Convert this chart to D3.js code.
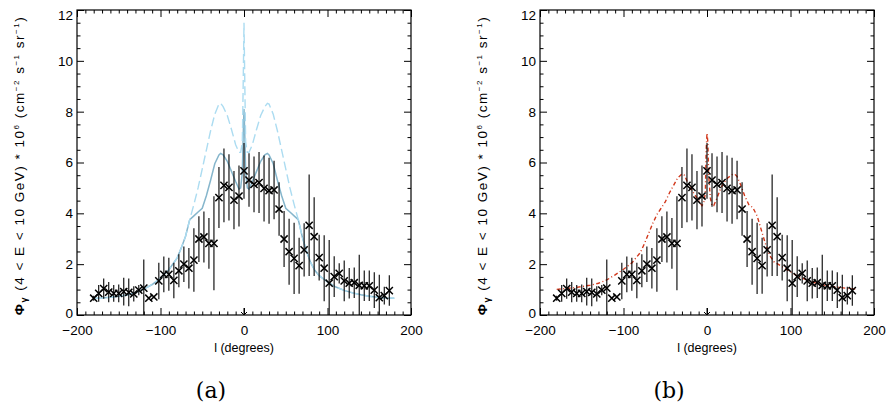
<!DOCTYPE html>
<html><head><meta charset="utf-8">
<script src="https://cdn.jsdelivr.net/npm/d3@7"></script>
<style>
html,body{margin:0;padding:0;background:#fff;}
svg text{font-family:"Liberation Sans",Arial,sans-serif;fill:#000;}
</style></head>
<body><svg id="c" width="887" height="408"></svg>
<script>
// ---- data ----
const lon = [-180,-174,-168,-162,-156,-150,-144,-138,-132,-126,-120,-114,-108,-102,-96,-90,-84,-78,-72,-66,-60,-54,-48,-42,-36,-30,-24,-18,-12,-6,0,6,12,18,24,30,36,42,48,54,60,66,72,78,84,90,96,102,108,114,120,126,132,138,144,150,156,162,168,174];
const flux = [0.66,0.85,1.04,0.90,0.85,0.85,0.92,0.89,0.83,0.98,1.06,0.66,0.71,1.34,1.60,1.60,1.36,1.74,2.00,1.84,2.16,2.99,3.07,2.82,2.82,4.62,5.10,5.02,4.52,4.68,5.67,5.31,5.14,5.21,4.98,4.89,4.92,4.17,2.99,2.49,2.23,1.94,2.56,3.53,3.08,2.26,1.84,1.25,1.51,1.64,1.34,1.25,1.27,1.17,1.15,1.15,0.98,0.68,0.76,0.96];
const fluxErr = [0.1,0.33,0.4,0.4,0.33,0.35,0.55,0.55,0.3,0.2,1.12,0,0,0.72,0.7,0.65,0.7,0.65,0.7,0.8,1.25,0.9,1.0,1.0,1.85,1.2,1.45,1.3,1.15,1.2,1.1,1.05,1.1,1.2,1.3,1.3,1.15,1.05,1.1,1.3,1.4,1.1,1.05,2.0,1.55,0.9,1.3,1.7,0.8,0.4,0.8,0.6,0.6,1.2,0.6,0.6,0.7,0.9,0.35,0.6];
const limitLon = [0];
const limitVal = [0];

const modelLon = [-180,-170,-160,-150,-140,-130,-120,-110,-100,-90,-80,-75,-70,-65,-60,-55,-50,-45,-40,-35,-30,-28,-25,-20,-15,-10,-6,-4,-2,-1,0,1,2,4,6,10,15,20,25,28,30,35,40,45,50,55,60,65,70,75,80,85,90,100,110,120,130,140,150,160,170,180];
const modelSolid = [0.66,0.67,0.70,0.74,0.79,0.88,1.02,1.2,1.45,1.78,2.25,2.65,3.1,3.75,3.9,4.05,4.2,4.7,5.3,5.95,6.3,6.36,6.3,6.05,5.65,5.25,4.95,5.0,5.6,7.0,8.1,7.0,5.6,5.0,4.95,5.25,5.65,6.05,6.3,6.36,6.3,5.95,5.3,4.7,4.2,4.05,3.9,3.75,3.05,2.5,2.05,1.75,1.55,1.3,1.1,0.97,0.87,0.8,0.74,0.7,0.67,0.66];
const modelDashed = [0.66,0.67,0.70,0.74,0.79,0.88,1.02,1.2,1.45,1.78,2.25,2.65,3.1,3.75,4.35,5.0,5.75,6.5,7.25,7.9,8.3,8.33,8.2,7.85,7.3,6.7,6.4,6.4,6.8,9.0,11.5,9.0,6.8,6.4,6.4,6.7,7.3,7.85,8.2,8.33,8.3,7.9,7.25,6.5,5.75,5.0,4.35,3.75,3.05,2.5,2.05,1.75,1.55,1.3,1.1,0.97,0.87,0.8,0.74,0.7,0.67,0.66];

const redLon = [-180,-170,-160,-150,-140,-130,-120,-110,-100,-90,-80,-75,-70,-65,-60,-55,-50,-45,-40,-35,-30,-27,-23,-20,-15,-10,-6,-4,-2,-1,0,1,2,4,6,8,12,16,20,25,30,33,36,40,45,50,55,60,65,70,75,80,85,90,100,110,120,130,140,150,160,170,180];
const redVal = [1.01,1.04,1.07,1.12,1.17,1.25,1.38,1.58,1.8,2.05,2.45,2.8,3.2,3.6,3.95,4.2,4.45,4.8,5.1,5.4,5.55,5.5,5.2,5.0,4.75,4.5,4.3,4.4,4.8,6.5,7.15,6.8,5.5,4.6,4.3,4.3,4.6,4.95,5.2,5.4,5.52,5.55,5.45,5.15,4.7,4.35,4.22,3.9,3.35,2.8,2.35,2.1,2.0,1.9,1.7,1.5,1.38,1.26,1.18,1.12,1.08,1.04,1.01];

const xTicks = [-200,-100,0,100,200];
const yTicks = [0,2,4,6,8,10,12];
const panelLabels = ["(a)","(b)"];

// ---- drawing ----
const svg = d3.select("#c");
const yTop = 10, yBottom = 315;
const panels = [{x0:77,x1:411},{x0:540,x1:874}];

function pts(xs, ys){ return xs.map((d,i)=>[d, ys[i]]); }

panels.forEach((p, pi) => {
  const x = d3.scaleLinear().domain([-200,200]).range([p.x0,p.x1]);
  const y = d3.scaleLinear().domain([0,12]).range([yBottom,yTop]);
  const g = svg.append("g");
  const cid = "clip"+pi;
  svg.append("clipPath").attr("id",cid).append("rect")
    .attr("x",p.x0).attr("y",yTop).attr("width",p.x1-p.x0).attr("height",yBottom-yTop);
  const plot = g.append("g").attr("clip-path",`url(#${cid})`);
  const line = d3.line().x(d=>x(d[0])).y(d=>y(d[1]));

  if (pi===0) {
    plot.append("path").attr("d", line(pts(modelLon, modelSolid)))
      .attr("fill","none").attr("stroke","#86b6cc").attr("stroke-width",1.5);
    plot.append("path").attr("d", line(pts(modelLon, modelDashed)))
      .attr("fill","none").attr("stroke","#acdcf1").attr("stroke-width",1.4)
      .attr("stroke-dasharray","9,4");
  } else {
    plot.append("path").attr("d", line(pts(redLon, redVal)))
      .attr("fill","none").attr("stroke","#d2381c").attr("stroke-width",1.4)
      .attr("stroke-dasharray","4,2.5,1,2.5");
  }

  // error bars
  plot.selectAll("line.err").data(lon).enter().append("line")
    .attr("x1",(d)=>x(d)).attr("x2",(d)=>x(d))
    .attr("y1",(d,i)=>y(flux[i]-fluxErr[i])).attr("y2",(d,i)=>y(flux[i]+fluxErr[i]))
    .attr("stroke","#000").attr("stroke-width",1.1);
  // X markers
  const s = 3.6;
  plot.selectAll("path.mk").data(lon).enter().append("path")
    .attr("d",(d,i)=>{const cx=x(d), cy=y(flux[i]);
      return `M${cx-s},${cy-s}L${cx+s},${cy+s}M${cx-s},${cy+s}L${cx+s},${cy-s}`;})
    .attr("stroke","#000").attr("stroke-width",1.5).attr("fill","none");
  // limit arrow
  limitLon.forEach((d,i)=>{
    const cx=x(d), cy=y(limitVal[i]);
    g.append("path").attr("d",`M${cx},${cy-7}L${cx},${cy}M${cx-3},${cy-3}L${cx},${cy}L${cx+3},${cy-3}`)
      .attr("stroke","#000").attr("stroke-width",1).attr("fill","none");
  });

  // axes
  const minorX = d3.range(-200,201,10).filter(v=>v%100!==0);
  const minorY = d3.range(0,12.01,0.5).filter(v=>v%2!==0);
  const ax = (gen, tr) => g.append("g").attr("transform",tr).call(gen)
      .call(sel=>sel.select(".domain").remove());
  const bAx = ax(d3.axisBottom(x).tickValues(xTicks).tickSize(-7).tickPadding(10).tickFormat(d=>d3.format("")(d).replace("-","\u2212")), `translate(0,${yBottom})`);
  bAx.selectAll("text").attr("font-size","13.5px");
  ax(d3.axisBottom(x).tickValues(minorX).tickSize(-3.5).tickFormat(""), `translate(0,${yBottom})`);
  ax(d3.axisTop(x).tickValues(xTicks).tickSize(-7).tickFormat(""), `translate(0,${yTop})`);
  ax(d3.axisTop(x).tickValues(minorX).tickSize(-3.5).tickFormat(""), `translate(0,${yTop})`);
  const lAx = ax(d3.axisLeft(y).tickValues(yTicks).tickSize(-7).tickPadding(4).tickFormat(d3.format("d")), `translate(${p.x0},0)`);
  lAx.selectAll("text").attr("font-size","13.5px")
    .attr("dy",d=> d===0 ? "0.2em" : d===12 ? "0.7em" : "0.33em");
  ax(d3.axisLeft(y).tickValues(minorY).tickSize(-3.5).tickFormat(""), `translate(${p.x0},0)`);
  ax(d3.axisRight(y).tickValues(yTicks).tickSize(-7).tickFormat(""), `translate(${p.x1},0)`);
  ax(d3.axisRight(y).tickValues(minorY).tickSize(-3.5).tickFormat(""), `translate(${p.x1},0)`);
  g.selectAll(".tick line").attr("stroke","#000").attr("stroke-width",1);
  g.append("rect").attr("x",p.x0).attr("y",yTop).attr("width",p.x1-p.x0).attr("height",yBottom-yTop)
    .attr("fill","none").attr("stroke","#000").attr("stroke-width",1.2);

  g.append("text").attr("x",x(0)).attr("y",352).attr("text-anchor","middle")
    .attr("font-size","12.5px").text("l (degrees)");
  const yt = g.append("text").attr("transform",`translate(${p.x0-53},${(yTop+yBottom)/2+3}) rotate(-90)`)
    .attr("text-anchor","middle").attr("font-size","13.5px").attr("letter-spacing","1.5px");
  yt.append("tspan").attr("font-weight","bold").text("\u03A6");
  yt.append("tspan").attr("font-size","9px").attr("font-weight","bold").attr("dy","3").text("\u03B3");
  yt.append("tspan").attr("dy","-3").text(" (4 < E < 10 GeV) * 10");
  yt.append("tspan").attr("font-size","8px").attr("dy","-5").text("6");
  yt.append("tspan").attr("dy","5").text(" (cm");
  yt.append("tspan").attr("font-size","8px").attr("dy","-5").text("\u22122");
  yt.append("tspan").attr("dy","5").text(" s");
  yt.append("tspan").attr("font-size","8px").attr("dy","-5").text("\u22121");
  yt.append("tspan").attr("dy","5").text(" sr");
  yt.append("tspan").attr("font-size","8px").attr("dy","-5").text("\u22121");
  yt.append("tspan").attr("dy","5").text(")");

  svg.append("text").attr("x",(pi===0?211:669)).attr("y",398).attr("text-anchor","middle")
    .style("font-family","'DejaVu Serif','Liberation Serif',serif").attr("font-size","22px")
    .text(panelLabels[pi]);
});
</script></body></html>
